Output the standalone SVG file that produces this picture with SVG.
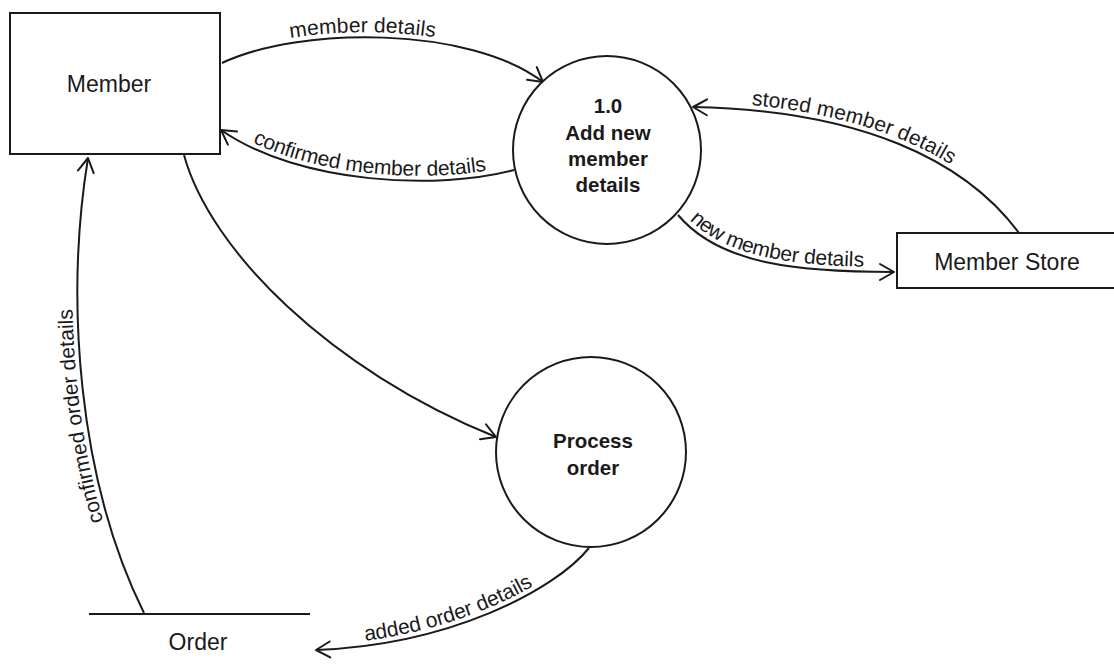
<svg xmlns="http://www.w3.org/2000/svg" xmlns:xlink="http://www.w3.org/1999/xlink" width="1114" height="668" viewBox="0 0 1114 668">
<style>
  .shape { fill: #ffffff; stroke: #1a1a1a; stroke-width: 2; }
  .edge { fill: none; stroke: #1a1a1a; stroke-width: 2; }
  .node { font-family: "Liberation Sans", Arial, sans-serif; font-size: 23px; fill: #1a1a1a; text-anchor: middle; }
  .proc { font-family: "Liberation Sans", Arial, sans-serif; font-size: 20.5px; font-weight: bold; fill: #1a1a1a; text-anchor: middle; }
  .lbl { font-family: "Liberation Sans", Arial, sans-serif; font-size: 21px; fill: #1a1a1a; }
</style>
<defs>
  <marker id="arr" markerUnits="userSpaceOnUse" markerWidth="20" markerHeight="20" refX="16" refY="10" orient="auto-start-reverse" overflow="visible">
    <path d="M2,2 L16,10 L2,18" fill="none" stroke="#1a1a1a" stroke-width="2" stroke-linejoin="round" stroke-linecap="round"/>
  </marker>
</defs>
<rect width="1114" height="668" fill="#ffffff"/>

<g id="connectors">
  <path id="c1" class="edge" d="M222,63 C300,26 470,26 543,82" marker-end="url(#arr)"/>
  <path id="c2" class="edge" d="M221,130 C300,185 440,190 514,170" marker-start="url(#arr)"/>
  <path id="c3" class="edge" d="M693,107 C860,110 965,160 1019,233" marker-start="url(#arr)"/>
  <path id="c4" class="edge" d="M678,215 C720,265 800,272 894,272" marker-end="url(#arr)"/>
  <path id="c5" class="edge" d="M184,155 C210,250 330,370 496,437" marker-end="url(#arr)"/>
  <path id="c6" class="edge" d="M144,613 C78,480 65,300 88,158" marker-end="url(#arr)"/>
  <path id="c7" class="edge" d="M316,650 C450,645 555,590 589,548" marker-start="url(#arr)"/>
  <text class="lbl" dy="-5"><textPath xlink:href="#c1" href="#c1" startOffset="72">member details</textPath></text>
  <text class="lbl" dy="-5"><textPath xlink:href="#c2" href="#c2" startOffset="34">confirmed member details</textPath></text>
  <text class="lbl" dy="-5"><textPath xlink:href="#c3" href="#c3" startOffset="58">stored member details</textPath></text>
  <text class="lbl" dy="-5"><textPath xlink:href="#c4" href="#c4" startOffset="12">new member details</textPath></text>
  <text class="lbl" dy="-5"><textPath xlink:href="#c6" href="#c6" startOffset="100">confirmed order details</textPath></text>
  <text class="lbl" dy="-5"><textPath xlink:href="#c7" href="#c7" startOffset="50">added order details</textPath></text>
</g>

<g id="member">
  <rect class="shape" x="10" y="13" width="210" height="141"/>
  <text class="node" x="109" y="92">Member</text>
</g>

<g id="process-1">
  <circle class="shape" cx="607" cy="150" r="94"/>
  <text class="proc" x="608" y="113">1.0</text>
  <text class="proc" x="608" y="140">Add new</text>
  <text class="proc" x="608" y="166">member</text>
  <text class="proc" x="608" y="192">details</text>
</g>

<g id="member-store">
  <rect class="shape" x="897" y="233" width="225" height="55"/>
  <text class="node" x="1007" y="270">Member Store</text>
</g>

<g id="process-order">
  <circle class="shape" cx="591" cy="452" r="95"/>
  <text class="proc" x="593" y="448">Process</text>
  <text class="proc" x="593" y="475">order</text>
</g>

<g id="order">
  <line class="edge" x1="89" y1="614" x2="310" y2="614"/>
  <text class="node" x="198" y="650">Order</text>
</g>
</svg>
